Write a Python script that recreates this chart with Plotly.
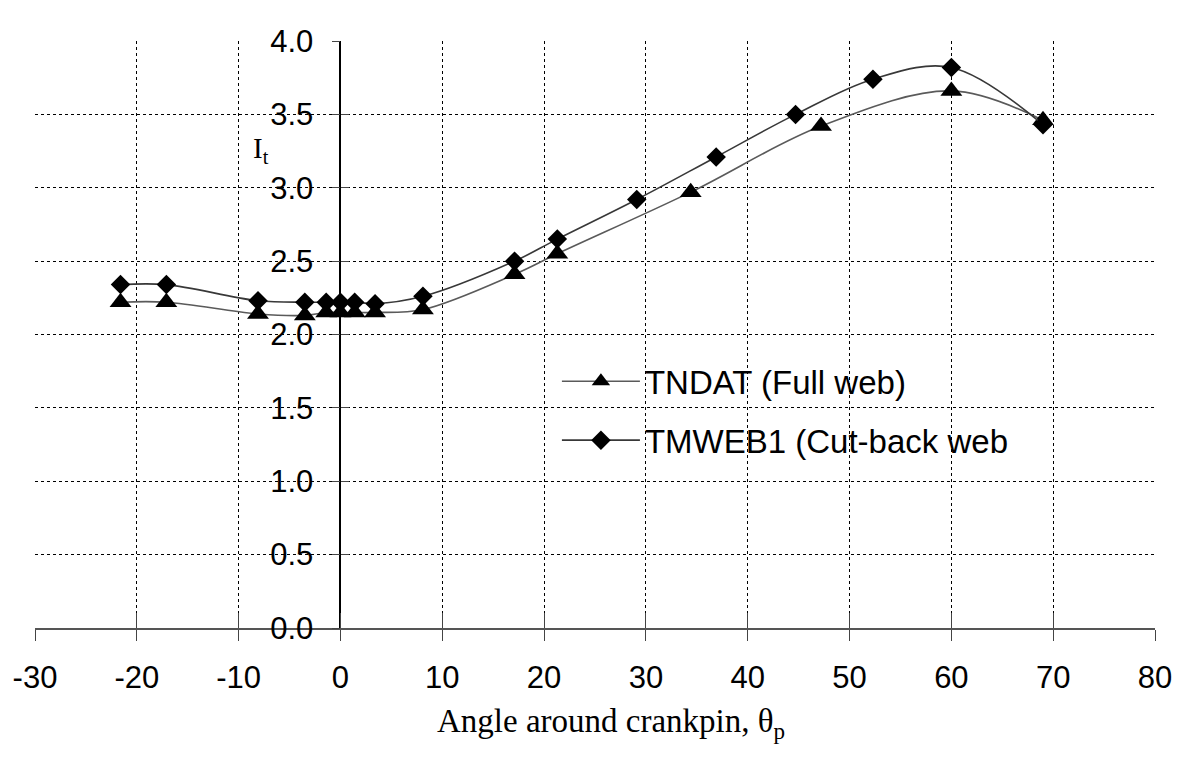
import plotly.graph_objects as go

# Angle around crankpin (deg) and torsional index for each web design
tndat_x = [-21.6, -17.1, -8.1, -3.5, -1.4, 0.0, 1.4, 3.4, 8.1, 17.1, 21.3, 34.4, 47.2, 60.0, 69.0]
tndat_y = [2.22, 2.22, 2.14, 2.13, 2.15, 2.15, 2.15, 2.15, 2.17, 2.41, 2.55, 2.97, 3.42, 3.66, 3.46]

tmweb_x = [-21.6, -17.1, -8.1, -3.5, -1.4, 0.0, 1.4, 3.4, 8.1, 17.1, 21.3, 29.1, 36.9, 44.7, 52.3, 60.0, 69.0]
tmweb_y = [2.34, 2.34, 2.23, 2.22, 2.22, 2.22, 2.22, 2.21, 2.26, 2.50, 2.65, 2.92, 3.21, 3.50, 3.74, 3.82, 3.43]

series_names = ["TNDAT (Full web)", "TMWEB1 (Cut-back web"]

x_range = [-30, 80]
y_range = [0, 4.0]
x_ticks = [-30, -20, -10, 0, 10, 20, 30, 40, 50, 60, 70, 80]
y_ticks = [0.0, 0.5, 1.0, 1.5, 2.0, 2.5, 3.0, 3.5, 4.0]

SANS = "Liberation Sans, Arial, sans-serif"
SERIF = "Liberation Serif, Times New Roman, serif"

# y axis sits on x = 0
y_pos = (0 - x_range[0]) / (x_range[1] - x_range[0])

fig = go.Figure()

fig.add_trace(go.Scatter(
    x=tndat_x, y=tndat_y, name=series_names[0], legendgroup="a",
    mode="lines+markers",
    line=dict(color="#5a5a5a", width=1.6, shape="spline", smoothing=1.0),
    marker=dict(symbol="triangle-up", size=19, color="black"),
))
fig.add_trace(go.Scatter(
    x=tmweb_x, y=tmweb_y, name=series_names[1], legendgroup="b",
    mode="lines+markers",
    line=dict(color="#383838", width=1.6, shape="spline", smoothing=1.0),
    marker=dict(symbol="diamond", size=15, color="black"),
))

# invisible trace so the overlay axes (inward half of the crossing ticks) render
fig.add_trace(go.Scatter(
    x=[x_range[0]], y=[y_range[0]], xaxis="x2", yaxis="y2",
    mode="markers", marker=dict(opacity=0), showlegend=False, hoverinfo="skip",
))

fig.update_layout(
    width=1183, height=760,
    margin=dict(l=35, r=28, t=41, b=132),
    paper_bgcolor="white", plot_bgcolor="white",
    showlegend=True,
    legend=dict(
        x=0.466, y=0.468, xanchor="left", yanchor="top",
        bgcolor="rgba(255,255,255,0)", borderwidth=0,
        font=dict(family=SANS, size=33, color="black"),
        itemwidth=78, tracegroupgap=13, traceorder="grouped",
    ),
    xaxis=dict(
        range=x_range, tickvals=x_ticks, ticktext=[str(v) for v in x_ticks],
        showgrid=True, gridcolor="black", griddash="dot", gridwidth=1.3,
        zeroline=False,
        showline=True, linecolor="#555555", linewidth=1.6,
        ticks="outside", ticklen=11, tickwidth=1.3, tickcolor="#444444",
        tickfont=dict(family=SANS, size=31, color="black"),
        ticklabelstandoff=10,
    ),
    yaxis=dict(
        range=y_range, tickvals=y_ticks, tickformat=".1f",
        anchor="free", position=y_pos,
        showgrid=True, gridcolor="black", griddash="dot", gridwidth=1.3,
        zeroline=False,
        showline=True, linecolor="black", linewidth=1.8,
        ticks="outside", ticklen=8, tickwidth=1.3, tickcolor="#444444",
        tickfont=dict(family=SANS, size=31, color="black"),
        ticklabelstandoff=12,
    ),
    xaxis2=dict(
        range=x_range, tickvals=x_ticks, overlaying="x", anchor="y", side="bottom",
        showgrid=False, zeroline=False, showline=False, showticklabels=False,
        ticks="inside", ticklen=15, tickwidth=1.3, tickcolor="#444444",
    ),
    yaxis2=dict(
        range=y_range, tickvals=y_ticks, overlaying="y", anchor="free", position=y_pos,
        showgrid=False, zeroline=False, showline=False, showticklabels=False,
        ticks="inside", ticklen=8, tickwidth=1.3, tickcolor="#444444",
    ),
    annotations=[
        dict(text="Angle around crankpin, θ<sub>p</sub>", xref="paper", yref="paper",
             x=0.514, y=-0.163, xanchor="center", yanchor="middle", showarrow=False,
             font=dict(family=SERIF, size=33, color="black")),
        dict(text="I<sub>t</sub>", xref="paper", yref="paper",
             x=0.2018, y=0.815, xanchor="center", yanchor="middle", showarrow=False,
             font=dict(family=SERIF, size=29, color="black")),
    ],
)

fig.write_html("out.html")
